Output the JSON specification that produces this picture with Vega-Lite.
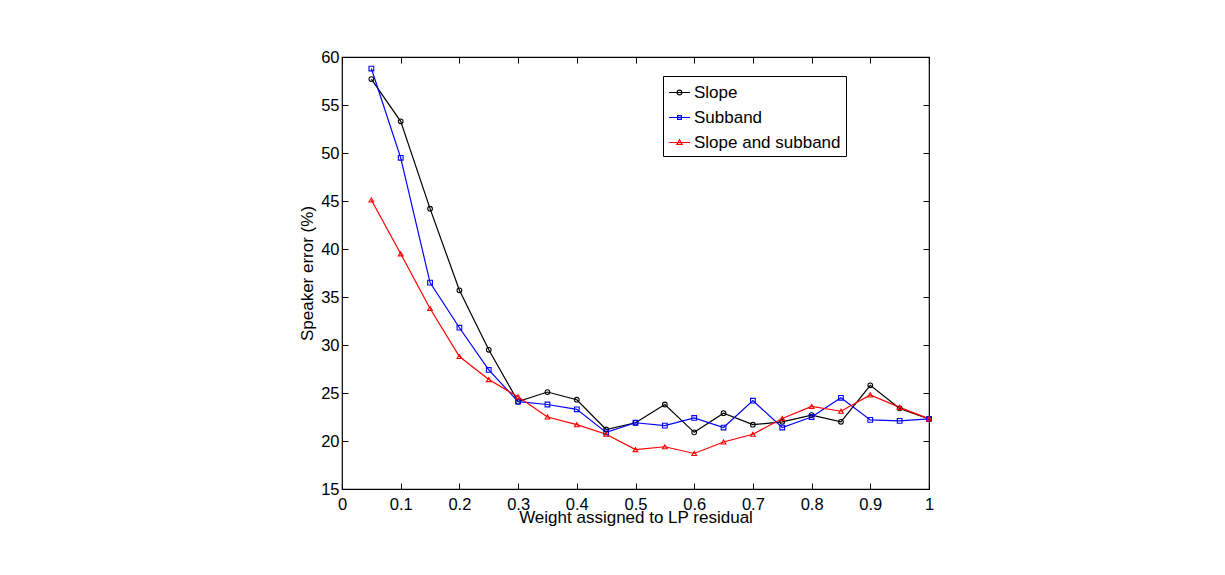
{
  "$schema": "https://vega.github.io/schema/vega-lite/v6.json",
  "autosize": "none",
  "width": 587,
  "height": 432,
  "padding": {"left": 342, "top": 57, "right": 296, "bottom": 86},
  "background": "white",
  "config": {
    "font": "Liberation Sans",
    "view": {"stroke": "black", "strokeWidth": 1.2},
    "axis": {
      "grid": false,
      "domain": false,
      "tickColor": "black",
      "tickWidth": 1,
      "tickSize": -6,
      "labelFont": "Liberation Sans",
      "labelFontSize": 16.5,
      "labelColor": "black",
      "titleFont": "Liberation Sans",
      "titleFontSize": 17,
      "titleFontWeight": "normal",
      "titleColor": "black"
    }
  },
  "data": {
    "values": [
      {"w": 0.05, "series": "Slope", "err": 57.7},
      {"w": 0.10, "series": "Slope", "err": 53.3},
      {"w": 0.15, "series": "Slope", "err": 44.2},
      {"w": 0.20, "series": "Slope", "err": 35.7},
      {"w": 0.25, "series": "Slope", "err": 29.5},
      {"w": 0.30, "series": "Slope", "err": 24.1},
      {"w": 0.35, "series": "Slope", "err": 25.1},
      {"w": 0.40, "series": "Slope", "err": 24.3},
      {"w": 0.45, "series": "Slope", "err": 21.2},
      {"w": 0.50, "series": "Slope", "err": 21.9},
      {"w": 0.55, "series": "Slope", "err": 23.8},
      {"w": 0.60, "series": "Slope", "err": 20.9},
      {"w": 0.65, "series": "Slope", "err": 22.9},
      {"w": 0.70, "series": "Slope", "err": 21.7},
      {"w": 0.75, "series": "Slope", "err": 22.0},
      {"w": 0.80, "series": "Slope", "err": 22.7},
      {"w": 0.85, "series": "Slope", "err": 22.0},
      {"w": 0.90, "series": "Slope", "err": 25.8},
      {"w": 0.95, "series": "Slope", "err": 23.4},
      {"w": 1.00, "series": "Slope", "err": 22.3},
      {"w": 0.05, "series": "Subband", "err": 58.8},
      {"w": 0.10, "series": "Subband", "err": 49.5},
      {"w": 0.15, "series": "Subband", "err": 36.5},
      {"w": 0.20, "series": "Subband", "err": 31.8},
      {"w": 0.25, "series": "Subband", "err": 27.4},
      {"w": 0.30, "series": "Subband", "err": 24.1},
      {"w": 0.35, "series": "Subband", "err": 23.8},
      {"w": 0.40, "series": "Subband", "err": 23.3},
      {"w": 0.45, "series": "Subband", "err": 20.9},
      {"w": 0.50, "series": "Subband", "err": 21.9},
      {"w": 0.55, "series": "Subband", "err": 21.6},
      {"w": 0.60, "series": "Subband", "err": 22.4},
      {"w": 0.65, "series": "Subband", "err": 21.4},
      {"w": 0.70, "series": "Subband", "err": 24.2},
      {"w": 0.75, "series": "Subband", "err": 21.4},
      {"w": 0.80, "series": "Subband", "err": 22.5},
      {"w": 0.85, "series": "Subband", "err": 24.5},
      {"w": 0.90, "series": "Subband", "err": 22.2},
      {"w": 0.95, "series": "Subband", "err": 22.1},
      {"w": 1.00, "series": "Subband", "err": 22.3},
      {"w": 0.05, "series": "Slope and subband", "err": 45.1},
      {"w": 0.10, "series": "Slope and subband", "err": 39.5},
      {"w": 0.15, "series": "Slope and subband", "err": 33.8},
      {"w": 0.20, "series": "Slope and subband", "err": 28.8},
      {"w": 0.25, "series": "Slope and subband", "err": 26.4},
      {"w": 0.30, "series": "Slope and subband", "err": 24.6},
      {"w": 0.35, "series": "Slope and subband", "err": 22.5},
      {"w": 0.40, "series": "Slope and subband", "err": 21.7},
      {"w": 0.45, "series": "Slope and subband", "err": 20.7},
      {"w": 0.50, "series": "Slope and subband", "err": 19.1},
      {"w": 0.55, "series": "Slope and subband", "err": 19.4},
      {"w": 0.60, "series": "Slope and subband", "err": 18.7},
      {"w": 0.65, "series": "Slope and subband", "err": 19.9},
      {"w": 0.70, "series": "Slope and subband", "err": 20.7},
      {"w": 0.75, "series": "Slope and subband", "err": 22.35},
      {"w": 0.80, "series": "Slope and subband", "err": 23.6},
      {"w": 0.85, "series": "Slope and subband", "err": 23.1},
      {"w": 0.90, "series": "Slope and subband", "err": 24.8},
      {"w": 0.95, "series": "Slope and subband", "err": 23.5},
      {"w": 1.00, "series": "Slope and subband", "err": 22.3}
    ]
  },
  "resolve": {
    "axis": {"x": "independent", "y": "independent"},
    "legend": {"color": "independent", "shape": "independent"},
    "scale": {"shape": "independent"}
  },
  "layer": [
    {
      "mark": {"type": "line", "strokeWidth": 1.2},
      "encoding": {
        "x": {
          "field": "w", "type": "quantitative",
          "scale": {"domain": [0, 1], "nice": false, "zero": false},
          "axis": {
            "orient": "bottom", "title": "Weight assigned to LP residual",
            "values": [0, 0.1, 0.2, 0.3, 0.4, 0.5, 0.6, 0.7, 0.8, 0.9, 1],
            "labelExpr": "datum.value === 0 || datum.value === 1 ? format(datum.value, 'd') : format(datum.value, '.1f')",
            "labelPadding": 13, "labelBaseline": "top", "labelFlush": false, "titlePadding": -3
          }
        },
        "y": {
          "field": "err", "type": "quantitative",
          "scale": {"domain": [15, 60], "nice": false, "zero": false},
          "axis": {
            "orient": "left", "title": "Speaker error (%)",
            "values": [15, 20, 25, 30, 35, 40, 45, 50, 55, 60],
            "labelPadding": 9, "labelFlush": false, "titlePadding": 4
          }
        },
        "color": {
          "field": "series", "type": "nominal",
          "scale": {
            "domain": ["Slope", "Subband", "Slope and subband"],
            "range": ["#000000", "#0000ff", "#ff0000"]
          },
          "legend": null
        }
      }
    },
    {
      "mark": {"type": "point", "filled": false, "strokeWidth": 1.1, "opacity": 1},
      "encoding": {
        "x": {
          "field": "w", "type": "quantitative",
          "scale": {"domain": [0, 1], "nice": false, "zero": false},
          "axis": {"orient": "top", "title": null, "labels": false,
            "values": [0, 0.1, 0.2, 0.3, 0.4, 0.5, 0.6, 0.7, 0.8, 0.9, 1]}
        },
        "y": {
          "field": "err", "type": "quantitative",
          "scale": {"domain": [15, 60], "nice": false, "zero": false},
          "axis": {"orient": "right", "title": null, "labels": false,
            "values": [15, 20, 25, 30, 35, 40, 45, 50, 55, 60]}
        },
        "color": {"field": "series", "type": "nominal", "legend": null},
        "shape": {
          "field": "series", "type": "nominal",
          "scale": {
            "domain": ["Slope", "Subband", "Slope and subband"],
            "range": ["circle", "square", "triangle-up"]
          },
          "legend": null
        },
        "size": {"value": 22}
      }
    },
    {
      "transform": [{"filter": "false"}],
      "mark": {"type": "point", "filled": false, "strokeWidth": 1.2, "opacity": 1},
      "encoding": {
        "x": {"field": "w", "type": "quantitative", "axis": null},
        "y": {"field": "err", "type": "quantitative", "axis": null},
        "color": {
          "field": "series", "type": "nominal",
          "legend": {
            "orient": "none", "legendX": 321, "legendY": 19,
            "title": null,
            "strokeColor": "black", "fillColor": "white",
            "padding": 5, "rowPadding": 5,
            "symbolSize": 441, "symbolStrokeWidth": 1.2,
            "labelFont": "Liberation Sans", "labelFontSize": 17, "labelColor": "black",
            "labelOffset": 3
          }
        },
        "shape": {
          "field": "series", "type": "nominal",
          "scale": {
            "domain": ["Slope", "Subband", "Slope and subband"],
            "range": [
              "M-1,0H1M-0.22,0A0.22,0.22 0 1,0 0.22,0A0.22,0.22 0 1,0 -0.22,0",
              "M-1,0H1M-0.18,-0.18H0.18V0.18H-0.18Z",
              "M-1,0H1M0,-0.26L0.25,0.18H-0.25Z"
            ]
          },
          "legend": {
            "orient": "none", "legendX": 321, "legendY": 19,
            "title": null,
            "strokeColor": "black", "fillColor": "white",
            "padding": 5, "rowPadding": 5,
            "symbolSize": 441, "symbolStrokeWidth": 1.2,
            "labelFont": "Liberation Sans", "labelFontSize": 17, "labelColor": "black",
            "labelOffset": 3
          }
        }
      }
    }
  ]
}
